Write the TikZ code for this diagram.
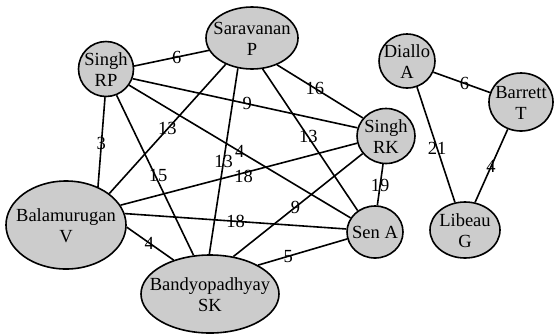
\documentclass[tikz,border=0pt]{standalone}
\usepackage{fontspec}
\setmainfont{Liberation Serif}
\usetikzlibrary{shapes.geometric}
\definecolor{nodegray}{RGB}{204,204,204}
\newcommand\nlab[1]{\raisebox{-6.6bp}[0pt][0pt]{\makebox[0pt]{\begin{tabular}{@{}c@{}}#1\end{tabular}}}}
\begin{document}
\begin{tikzpicture}[x=1bp,y=-1bp,
  every node/.append style={font=\fontsize{18.5bp}{21bp}\selectfont},
  ent/.style={ellipse,draw=black,line width=1.6bp,fill=nodegray,inner sep=0pt},
  lnk/.style={line width=1.6bp},
  wt/.style={inner sep=0pt}]
\useasboundingbox (0,0) rectangle (555,334);
% nodes
\node[ent,minimum width=55bp,minimum height=55bp] (rp) at (106,69) {\nlab{Singh\\RP}};
\node[ent,minimum width=92bp,minimum height=62bp] (sar) at (252,38) {\nlab{Saravanan\\P}};
\node[ent,minimum width=58bp,minimum height=55bp] (rk) at (386,136) {\nlab{Singh\\RK}};
\node[ent,minimum width=120bp,minimum height=88bp] (bal) at (66,225) {\nlab{Balamurugan\\V}};
\node[ent,minimum width=138bp,minimum height=78bp] (band) at (210,294) {\nlab{Bandyopadhyay\\SK}};
\node[ent,minimum width=56bp,minimum height=52bp] (sen) at (375,232) {\nlab{Sen A}};
\node[ent,minimum width=56bp,minimum height=54bp] (dia) at (407,61) {\nlab{Diallo\\A}};
\node[ent,minimum width=64bp,minimum height=58bp] (bar) at (521,102) {\nlab{Barrett\\T}};
\node[ent,minimum width=70bp,minimum height=56bp] (lib) at (465,230) {\nlab{Libeau\\G}};
% connectors
\draw[lnk] (rp.6) -- node[wt,pos=.57] (w1) {6} (sar.196.8);
\draw[lnk] (rp.-20) -- node[wt,pos=.51] (w2) {9} (rk.164.6);
\draw[lnk] (rp.-92) -- node[wt,pos=.52] (w3) {3} (bal.50.8);
\draw[lnk] (rp.-68) -- node[wt,pos=.50,xshift=3bp] (w4) {15} (band.113.6);
\draw[lnk] (rp.-35) -- node[wt,pos=.50] (w5) {4} (sen.150.8);
\draw[lnk] (sar.-135) -- node[wt,pos=.50] (w6) {13} (bal.36);
\draw[lnk] (sar.-115) -- node[wt,pos=.50] (w7) {13} (band.91.5);
\draw[lnk] (sar.-71.6) -- node[wt,pos=.48] (w8) {13} (sen.129);
\draw[lnk] (sar.-47) -- node[wt,pos=.44] (w9) {16} (rk.142);
\draw[lnk] (rk.-166) -- node[wt,pos=.48,yshift=-3bp] (w10) {18} (bal.20);
\draw[lnk] (rk.-143.5) -- node[wt,pos=.52] (w11) {9} (band.58);
\draw[lnk] (rk.-96) -- node[wt,pos=.52] (w12) {19} (sen.85);
\draw[lnk] (bal.11.5) -- node[wt,pos=.50] (w13) {18} (sen.174);
\draw[lnk] (bal.-2) -- node[wt,pos=.48] (w14) {4} (band.137.4);
\draw[lnk] (band.31) -- node[wt,pos=.34] (w15) {5} (sen.-166);
\draw[lnk] (dia.-23) -- node[wt,pos=.55] (w16) {6} (bar.163);
\draw[lnk] (dia.-69) -- node[wt,pos=.53] (w17) {21} (lib.110);
\draw[lnk] (bar.-116.6) -- node[wt,pos=.51] (w18) {4} (lib.70);
\end{tikzpicture}
\end{document}
